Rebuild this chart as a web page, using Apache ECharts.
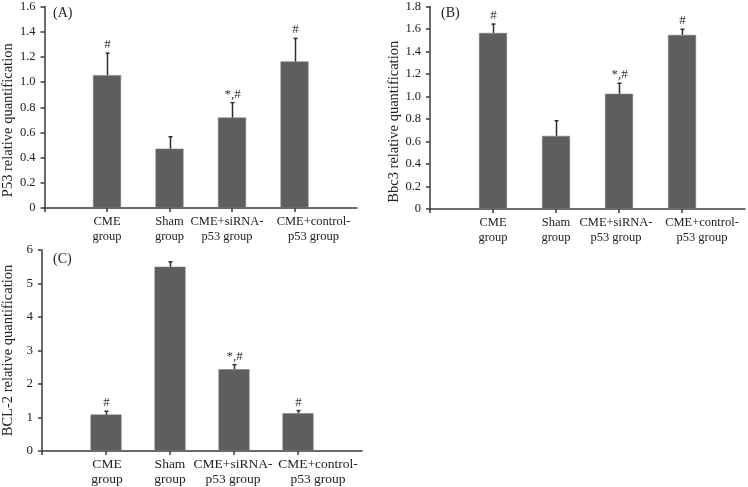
<!DOCTYPE html>
<html><head><meta charset="utf-8">
<script src="https://cdn.jsdelivr.net/npm/echarts@6/dist/echarts.min.js"></script>
<style>html,body{margin:0;padding:0;background:#fff}#c{width:748px;height:487px}</style>
</head><body><div id="c"></div>
<script>
const categories = ['CME\ngroup', 'Sham\ngroup', 'CME+siRNA-\np53 group', 'CME+control-\np53 group'];
const p53Mean = [1.055, 0.471, 0.718, 1.163];
const p53Err = [0.174, 0.095, 0.119, 0.184];
const bbc3Mean = [1.565, 0.650, 1.024, 1.547];
const bbc3Err = [0.079, 0.135, 0.094, 0.050];
const bcl2Mean = [1.088, 5.500, 2.441, 1.127];
const bcl2Err = [0.098, 0.147, 0.137, 0.079];
const marks = ['#', '', '*,#', '#'];
const panelNames = ['(A)', '(B)', '(C)'];
const yNames = ['P53 relative quantification', 'Bbc3 relative quantification', 'BCL-2 relative quantification'];
const yMax = [1.6, 1.8, 6];
const yStep = [0.2, 0.2, 1];

const FONT = '"Liberation Serif", "Times New Roman", serif';
const AX = '#3a3a3a';
const BAR = '#5e5e5e';

// layout (per panel)
const grids = [
  {left: 42, top: 6, width: 315, height: 202},
  {left: 430, top: 5, width: 315, height: 204},
  {left: 42, top: 250, width: 320, height: 204}
];
const labelShift = [[0, 0, -5, 19], [0, 0, -3, 20], [1, 0, -1, 20]];
const labelSize = [12.5, 12.5, 13.5];
const tickSize = [12.5, 12.5, 13];
const barW = [28, 28, 31];
const nameShift = [26, 28, 0];
const nameGap = [27, 23, 26];
const panelPos = [[53, 6], [441, 6], [53, 252]];

const means = [p53Mean, bbc3Mean, bcl2Mean];
const errs = [p53Err, bbc3Err, bcl2Err];

function axisData(k) {
  const items = [{value: ''}];
  categories.forEach((c, i) => {
    const s = labelShift[k][i];
    const pad = s >= 0 ? [0, 0, 0, 2 * s] : [0, -2 * s, 0, 0];
    items.push({value: c, textStyle: {padding: pad}});
  });
  items.push({value: ''});
  return items;
}

const xAxes = [], yAxes = [], series = [];
grids.forEach((g, k) => {
  xAxes.push({
    type: 'category', gridIndex: k, data: axisData(k), boundaryGap: false,
    axisLine: {lineStyle: {color: AX, width: 1.5}},
    axisTick: {show: true, length: 4, lineStyle: {color: AX, width: 1.5}, interval: (i) => i < 5},
    axisLabel: {interval: 0, color: '#222', fontFamily: FONT, fontSize: labelSize[k], lineHeight: 15, margin: 6}
  });
  yAxes.push({
    type: 'value', gridIndex: k, min: 0, max: yMax[k], interval: yStep[k],
    name: yNames[k], nameLocation: 'middle', nameGap: nameGap[k],
    nameTextStyle: {color: '#222', fontFamily: FONT, fontSize: 14.5, padding: [0, nameShift[k], 0, 0]},
    axisLine: {show: true, lineStyle: {color: AX, width: 1.5}},
    axisTick: {show: true, length: 4, lineStyle: {color: AX, width: 1.5}},
    splitLine: {show: false},
    axisLabel: {color: '#222', fontFamily: FONT, fontSize: tickSize[k], margin: 9,
      formatter: (v) => v === 0 ? '0' : (yStep[k] < 1 ? v.toFixed(1) : String(v))}
  });
  series.push({
    type: 'bar', xAxisIndex: k, yAxisIndex: k, barWidth: barW[k],
    itemStyle: {color: BAR, borderColor: '#7a7a7a', borderWidth: 0.5},
    data: means[k].map((v, i) => [i + 1, v]), z: 2
  });
  series.push({
    type: 'custom', xAxisIndex: k, yAxisIndex: k, z: 3,
    data: means[k].map((v, i) => [i + 1, v, v + errs[k][i]]),
    renderItem: (params, api) => {
      const i = params.dataIndex;
      const p0 = api.coord([api.value(0), api.value(1)]);
      const p1 = api.coord([api.value(0), api.value(2)]);
      const x = Math.round(p0[0]) + 0.5;
      return {type: 'group', children: [
        {type: 'line', shape: {x1: x, y1: p0[1], x2: x, y2: p1[1]}, style: {stroke: '#2e2e2e', lineWidth: 1.5}},
        {type: 'line', shape: {x1: x - 2, y1: p1[1], x2: x + 2, y2: p1[1]}, style: {stroke: '#2e2e2e', lineWidth: 1.5}},
        {type: 'text', x: x, y: p1[1] - 2, style: {text: marks[i], fill: '#333', font: '13px ' + FONT, textAlign: 'center', textVerticalAlign: 'bottom'}}
      ]};
    }
  });
});

const chart = echarts.init(document.getElementById('c'), null, {renderer: 'canvas'});
chart.setOption({
  animation: false,
  backgroundColor: '#fff',
  grid: grids,
  xAxis: xAxes,
  yAxis: yAxes,
  series: series,
  graphic: panelNames.map((t, k) => ({
    type: 'text', left: panelPos[k][0], top: panelPos[k][1],
    style: {text: t, fill: '#222', font: '14px ' + FONT}
  }))
});
</script></body></html>
